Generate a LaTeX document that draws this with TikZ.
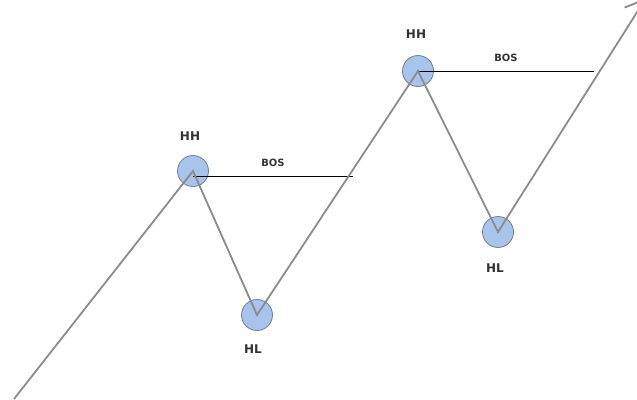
\documentclass[tikz,border=0pt]{standalone}
\usepackage{fontspec}
\setmainfont{DejaVu Sans}
\usetikzlibrary{arrows.meta}
\definecolor{swing}{HTML}{8C8C8C}
\definecolor{pivotfill}{HTML}{A9C4EB}
\definecolor{pivotline}{HTML}{6E7F99}
\definecolor{labelc}{HTML}{333333}
\tikzset{
  pivot/.style={circle, draw=pivotline, fill=pivotfill, line width=0.8pt,
                minimum size=31pt, inner sep=0pt},
  swingline/.style={draw=swing, line width=1.8pt, line join=miter},
  bosline/.style={draw=black, line width=1pt},
  tag/.style={font=\bfseries\fontsize{12}{13}\selectfont, text=labelc},
  bostag/.style={font=\bfseries\fontsize{10}{11}\selectfont, text=labelc},
}
\begin{document}
\begin{tikzpicture}[x=1pt, y=-1pt]
  \useasboundingbox (0,0) rectangle (637,399);
  % swing points
  \node[pivot] (hh1) at (193,171) {};
  \node[pivot] (hl1) at (257,315) {};
  \node[pivot] (hh2) at (418,71) {};
  \node[pivot] (hl2) at (498,232) {};
  \coordinate (start) at (14,399);
  \coordinate (tip) at (646,-2);
  \coordinate (bos1) at (353,176);
  \coordinate (bos2) at (594,71);
  % break of structure levels
  \draw[bosline] (hh1.center) ++(0,5) coordinate (bos1start) -- (bos1);
  \draw[bosline] (hh2.center) -- (bos2);
  % price path
  \draw[swingline, -{Straight Barb[length=18pt, width=26pt, line width=1.8pt]}]
    (start) -- (hh1.center) -- (hl1.center) -- (hh2.center)
    -- (hl2.center) -- (tip);
  % labels
  \node[tag] (hh1lbl) at (190,136) {HH};
  \node[tag] (hh2lbl) at (416,34) {HH};
  \node[tag] (hl1lbl) at (253,349) {HL};
  \node[tag] (hl2lbl) at (495,268) {HL};
  \node[bostag] (bos1lbl) at (273,163) {BOS};
  \node[bostag] (bos2lbl) at (506,58) {BOS};
\end{tikzpicture}
\end{document}
